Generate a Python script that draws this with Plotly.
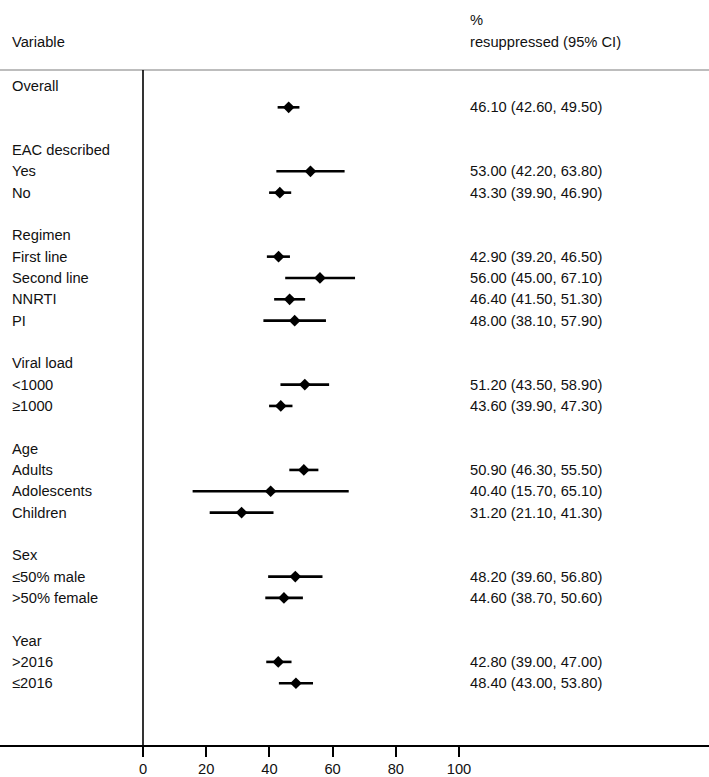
import plotly.graph_objects as go

# rows of the forest plot, top to bottom ("" = spacer row)
labels = ["Overall", "", "",
          "EAC described", "Yes", "No", "",
          "Regimen", "First line", "Second line", "NNRTI", "PI", "",
          "Viral load", "<1000", "≥1000", "",
          "Age", "Adults", "Adolescents", "Children", "",
          "Sex", "≤50% male", ">50% female", "",
          "Year", ">2016", "≤2016"]

# estimate rows (index into labels) and their values
est_rows = [1, 4, 5, 8, 9, 10, 11, 14, 15, 18, 19, 20, 23, 24, 27, 28]
est = [46.1, 53.0, 43.3, 42.9, 56.0, 46.4, 48.0, 51.2, 43.6, 50.9, 40.4, 31.2, 48.2, 44.6, 42.8, 48.4]
lo = [42.6, 42.2, 39.9, 39.2, 45.0, 41.5, 38.1, 43.5, 39.9, 46.3, 15.7, 21.1, 39.6, 38.7, 39.0, 43.0]
hi = [49.5, 63.8, 46.9, 46.5, 67.1, 51.3, 57.9, 58.9, 47.3, 55.5, 65.1, 41.3, 56.8, 50.6, 47.0, 53.8]

x_ticks = [0, 20, 40, 60, 80, 100]

FONT = "Liberation Sans, Arial, sans-serif"
TXT = "#111111"
FS = 14.7

fig = go.Figure()

fig.add_trace(go.Scatter(
    x=est, y=est_rows, mode="markers",
    marker=dict(symbol="diamond", size=9, color="black"),
    error_x=dict(type="data", symmetric=False,
                 array=[h - e for h, e in zip(hi, est)],
                 arrayminus=[e - l for e, l in zip(est, lo)],
                 thickness=2.6, width=0, color="black"),
    showlegend=False, hoverinfo="x+y",
))

# left column labels
for i, lab in enumerate(labels):
    if lab:
        fig.add_annotation(x=10 / 709, xref="paper", y=i, yref="y", text=lab,
                           showarrow=False, xanchor="left", yanchor="middle",
                           font=dict(family=FONT, size=FS, color=TXT))

# right column estimate text
for r, e, l, h in zip(est_rows, est, lo, hi):
    fig.add_annotation(x=468 / 709, xref="paper", y=r, yref="y",
                       text=f"{e:.2f} ({l:.2f}, {h:.2f})",
                       showarrow=False, xanchor="left", yanchor="middle",
                       font=dict(family=FONT, size=FS, color=TXT))

# headers (above the plot area, paper coords)
def header(xpx, ypx, text):
    fig.add_annotation(x=xpx / 709, xref="paper", y=(745 - ypx) / 675, yref="paper",
                       text=text, showarrow=False, xanchor="left", yanchor="middle",
                       font=dict(family=FONT, size=FS, color=TXT))

header(10, 42, "Variable")
header(468, 20, "%")
header(468, 42, "resuppressed (95% CI)")

# top grey rule and the null line at 0
fig.add_shape(type="line", xref="paper", yref="paper", x0=0, x1=1, y0=1, y1=1,
              line=dict(color="#bdbdbd", width=2))
fig.add_shape(type="line", xref="x", yref="paper", x0=0, x1=0, y0=0, y1=1,
              line=dict(color="black", width=1.6))

px_per_unit = 316 / 100
fig.update_xaxes(range=[-143 / px_per_unit, (709 - 143) / px_per_unit],
                 showgrid=False, zeroline=False, showline=True, linecolor="black", linewidth=1.5,
                 ticks="outside", ticklen=10, tickwidth=1.5, tickcolor="black",
                 tickvals=x_ticks, ticktext=[str(t) for t in x_ticks],
                 tickfont=dict(family=FONT, size=FS, color=TXT), automargin=False)
fig.update_yaxes(range=[(745 - 86) / 21.33, (70 - 86) / 21.33], visible=False,
                 showgrid=False, zeroline=False)

fig.update_layout(width=709, height=777, margin=dict(l=0, r=0, t=70, b=32),
                  plot_bgcolor="white", paper_bgcolor="white")

fig.write_html("out.html", config={"displayModeBar": False},
               post_script="document.body.style.margin='0';")
